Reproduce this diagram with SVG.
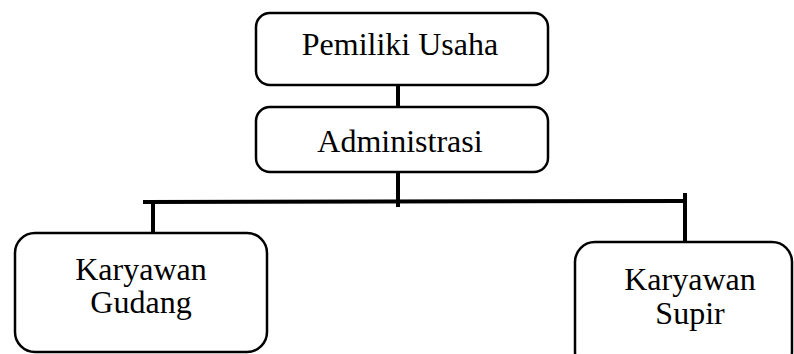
<svg xmlns="http://www.w3.org/2000/svg" width="794" height="354" viewBox="0 0 794 354">
<style>
.box{fill:#fff;stroke:#000;stroke-width:2.5}
.t{font-family:"Liberation Serif","Times New Roman",serif;font-size:32px;fill:#000;text-anchor:middle}
.c{stroke:#000;stroke-width:4;fill:none}
</style>
<rect width="794" height="354" fill="#fff"/>
<g id="connectors">
<line class="c" x1="398" y1="85" x2="398" y2="107"/>
<line class="c" x1="398" y1="172" x2="398" y2="207"/>
<line class="c" x1="143" y1="202" x2="687" y2="201"/>
<line class="c" x1="153" y1="202" x2="153" y2="233"/>
<line class="c" x1="685" y1="193" x2="685" y2="242"/>
</g>
<g id="pemilik">
<rect class="box" x="256" y="13" width="292" height="72" rx="14"/>
<text class="t" x="400" y="55">Pemiliki Usaha</text>
</g>
<g id="administrasi">
<rect class="box" x="256" y="107" width="292" height="65" rx="14"/>
<text class="t" x="400" y="152">Administrasi</text>
</g>
<g id="gudang">
<rect class="box" x="15" y="233" width="252" height="119" rx="20"/>
<text class="t" x="141" y="280">Karyawan</text>
<text class="t" x="141" y="313">Gudang</text>
</g>
<g id="supir">
<rect class="box" x="575" y="242" width="217" height="130" rx="20"/>
<text class="t" x="690" y="290">Karyawan</text>
<text class="t" x="690" y="324">Supir</text>
</g>
</svg>
